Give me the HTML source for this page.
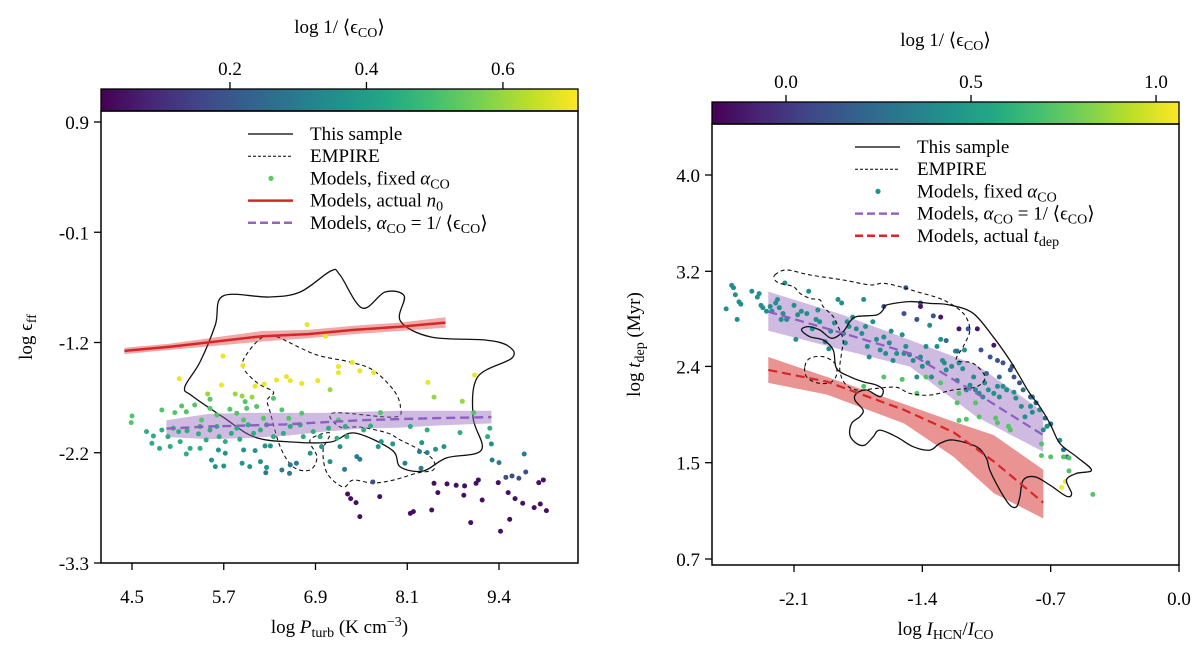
<!DOCTYPE html>
<html><head><meta charset="utf-8"><style>
html,body{margin:0;padding:0;background:#fff;}
svg{display:block;font-family:"Liberation Serif","DejaVu Serif",serif;}
</style></head><body>
<svg id="fig" width="1200" height="651" viewBox="0 0 1200 651" xmlns="http://www.w3.org/2000/svg">
<defs>
<linearGradient id="viridis" x1="0" x2="1" y1="0" y2="0">
<stop offset="0" stop-color="#440154"/><stop offset="0.1" stop-color="#482475"/><stop offset="0.2" stop-color="#414487"/><stop offset="0.3" stop-color="#355f8d"/><stop offset="0.4" stop-color="#2a788e"/><stop offset="0.5" stop-color="#21918c"/><stop offset="0.6" stop-color="#22a884"/><stop offset="0.7" stop-color="#44bf70"/><stop offset="0.8" stop-color="#7ad151"/><stop offset="0.9" stop-color="#bddf26"/><stop offset="1" stop-color="#fde725"/>
</linearGradient>
<clipPath id="clipL"><rect x="101" y="111" width="477" height="452"/></clipPath>
<clipPath id="clipR"><rect x="712" y="124" width="467" height="441"/></clipPath>
</defs>
<g id="left"></g>
<g id="right"></g>
</svg>
<script>
// ===== Left panel data =====
const lXTicks=[4.5,5.7,6.9,8.1,9.3];
const lXTickLabels=["4.5","5.7","6.9","8.1","9.4"];
const lYTicks=[0.9,-0.15,-1.2,-2.25,-3.3];
const lYTickLabels=["0.9","-0.1","-1.2","-2.2","-3.3"];
const lCbTicks=[0.2,0.4,0.6];
const lCbLabels=["0.2","0.4","0.6"];
const lRedX=[4.4,5.0,5.6,6.2,6.8,7.4,8.0,8.6];
const lRedY=[-1.28,-1.24,-1.19,-1.14,-1.12,-1.08,-1.05,-1.01];
const lRedHalf=[0.03,0.03,0.04,0.05,0.04,0.04,0.04,0.05];
const lPurX=[4.95,5.5,6.0,6.5,7.0,7.5,8.0,8.5,9.2];
const lPurY=[-2.02,-2.0,-1.99,-1.98,-1.96,-1.94,-1.93,-1.92,-1.91];
const lPurHalf=[0.08,0.12,0.12,0.11,0.09,0.08,0.08,0.07,0.06];
const lSolidX=[5.69,6.29,6.70,7.10,7.22,7.51,7.81,8.06,8.01,8.41,9.12,9.42,9.47,9.02,8.96,9.07,8.61,8.31,8.01,7.90,7.41,7.10,6.59,6.10,5.69,5.29,5.19,5.39,5.59];
const lSolidY=[-0.757,-0.767,-0.719,-0.519,-0.557,-0.871,-0.719,-0.757,-0.995,-1.148,-1.176,-1.233,-1.348,-1.529,-1.91,-2.224,-2.3,-2.424,-2.386,-2.224,-2.062,-2.148,-2.148,-2.1,-1.91,-1.71,-1.624,-1.386,-1.033];
const lDashX=[6.21,6.01,5.95,6.14,6.35,6.27,6.31,6.44,6.61,6.83,6.92,6.83,7.09,7.0,7.05,7.26,7.39,7.65,7.92,8.23,8.44,8.44,8.27,8.01,7.84,7.48,7.22,7.13,7.92,8.01,7.92,7.65,7.35,6.92,6.57,6.40];
const lDashY=[-1.148,-1.30,-1.433,-1.586,-1.671,-1.748,-1.871,-2.195,-2.386,-2.414,-2.29,-2.129,-2.062,-2.224,-2.443,-2.576,-2.51,-2.538,-2.51,-2.443,-2.414,-2.319,-2.224,-2.129,-2.062,-2.005,-2.005,-1.871,-1.91,-1.814,-1.652,-1.462,-1.386,-1.319,-1.205,-1.148];
const lPtX=[6.79,7.03,5.69,5.12,5.95,5.67,6.11,6.23,6.39,6.52,6.57,6.72,6.93,7.2,7.2,7.38,7.48,7.66,8.37,8.98,
7.09,8.45,8.82,5.49,5.85,5.94,6.07,
4.89,4.50,4.49,5.15,5.21,5.32,5.52,5.52,5.61,5.78,5.87,5.98,6.0,6.13,6.22,6.35,6.46,6.55,6.72,7.2,7.75,8.97,5.96,5.41,5.06,
4.69,4.78,4.89,4.97,5.04,5.11,4.76,4.86,5.0,5.13,5.22,5.37,5.39,5.47,5.52,5.61,5.64,5.72,5.8,5.87,5.91,6.02,6.09,6.18,6.26,6.35,6.48,6.57,6.7,6.74,6.87,6.96,7.07,7.18,7.29,7.31,7.53,7.62,8.14,8.36,8.79,9.18,9.15,5.26,5.21,5.39,
5.63,5.72,5.54,5.59,5.7,5.94,6.04,6.11,6.24,6.31,6.18,6.26,5.96,6.83,6.98,7.09,7.22,7.72,7.76,7.91,8.29,8.47,8.58,9.2,
6.46,6.57,6.56,6.65,6.25,7.28,7.44,7.48,8.26,8.36,9.21,9.3,9.63,8.07,8.28,
7.65,9.65,9.39,9.47,9.56,
7.32,7.36,7.43,7.48,7.74,8.14,8.18,8.42,8.45,8.5,8.62,8.74,8.84,8.85,8.93,9.0,9.03,9.08,9.29,9.32,9.42,9.44,9.51,9.61,9.76,9.84,9.92,9.82,9.88];
const lPtY=[-1.03,-1.14,-1.33,-1.545,-1.42,-1.605,-1.615,-1.595,-1.557,-1.525,-1.563,-1.59,-1.563,-1.43,-1.487,-1.39,-1.47,-1.487,-1.58,-1.51,
-1.65,-1.72,-1.76,-1.69,-1.69,-1.71,-1.72,
-1.843,-1.9,-1.963,-1.805,-1.86,-1.795,-1.74,-1.827,-1.89,-1.836,-1.874,-1.763,-1.827,-1.81,-1.922,-1.732,-1.842,-1.922,-1.874,-1.938,-1.868,-1.868,-1.938,-1.938,-1.868,
-2.049,-2.09,-2.033,-2.097,-2.017,-2.049,-2.16,-2.208,-2.19,-2.144,-2.04,-2.07,-2.0,-2.128,-2.033,-2.0,-2.097,-2.144,-2.065,-2.017,-2.122,-1.985,-2.065,-2.033,-1.985,-2.097,-2.065,-2.0,-1.985,-2.097,-2.049,-2.097,-2.017,-2.112,-2.0,-2.097,-2.033,-1.995,-2.0,-2.033,-2.058,-2.017,-2.097,-2.208,-2.262,-2.208,
-2.224,-2.255,-2.32,-2.382,-2.376,-2.35,-2.382,-2.23,-2.185,-2.185,-2.335,-2.39,-2.224,-2.255,-2.192,-2.335,-2.192,-2.192,-2.144,-2.166,-2.154,-2.217,-2.192,-2.166,
-2.414,-2.366,-2.446,-2.35,-2.44,-2.408,-2.287,-2.312,-2.239,-2.249,-2.319,-2.344,-2.262,-2.35,-2.398,
-2.528,-2.433,-2.484,-2.471,-2.493,
-2.643,-2.687,-2.725,-2.858,-2.668,-2.827,-2.811,-2.795,-2.541,-2.63,-2.547,-2.56,-2.655,-2.566,-2.915,-2.541,-2.509,-2.7,-2.535,-2.998,-2.63,-2.884,-2.687,-2.731,-2.773,-2.738,-2.801,-2.535,-2.509];
const lPtC=[].concat(Array(20).fill(0.69),Array(7).fill(0.6),Array(25).fill(0.52),Array(46).fill(0.45),Array(24).fill(0.37),Array(15).fill(0.3),Array(5).fill(0.18),Array(29).fill(0.04));

// ===== Right panel data =====
const rXTicks=[-2.1,-1.4,-0.7,0.0];
const rXTickLabels=["-2.1","-1.4","-0.7","0.0"];
const rYTicks=[0.73,1.55,2.37,3.18,4.0];
const rYTickLabels=["0.7","1.5","2.4","3.2","4.0"];
const rCbTicks=[0.0,0.5,1.0];
const rCbLabels=["0.0","0.5","1.0"];
const rPurX=[-2.24,-1.832,-1.468,-1.104,-0.741];
const rPurY=[2.836,2.652,2.481,2.14,1.785];
const rPurLo=[2.674,2.51,2.368,1.94,1.643];
const rPurHi=[3.007,2.808,2.595,2.382,1.984];
const rRedX=[-2.24,-1.92,-1.5,-1.23,-1.01,-0.74];
const rRedY=[2.34,2.24,2.0,1.81,1.56,1.21];
const rRedLo=[2.23,2.13,1.885,1.6,1.29,1.075];
const rRedHi=[2.45,2.28,2.05,1.90,1.785,1.49];
const rSolidX=[-1.595,-1.468,-1.359,-1.25,-1.123,-1.014,-0.923,-0.868,-0.814,-0.759,-0.704,-0.65,-0.559,-0.477,-0.559,-0.614,-0.586,-0.614,-0.704,-0.786,-0.85,-0.868,-0.886,-0.923,-0.977,-1.032,-1.05,-1.104,-1.232,-1.304,-1.359,-1.45,-1.541,-1.632,-1.668,-1.714,-1.759,-1.795,-1.786,-1.741,-1.723,-1.768,-1.759,-1.704,-1.632,-1.614,-1.65,-1.723,-1.795,-1.868,-1.886,-1.941,-2.014,-2.059,-2.023,-1.959,-1.895,-1.832,-1.795,-1.759,-1.65,-1.614];
const rSolidY=[2.893,2.922,2.907,2.893,2.822,2.623,2.424,2.282,2.14,2.027,1.885,1.714,1.601,1.487,1.459,1.402,1.288,1.265,1.359,1.43,1.402,1.26,1.175,1.189,1.317,1.487,1.586,1.686,1.743,1.714,1.657,1.686,1.771,1.828,1.771,1.7,1.714,1.785,1.885,1.942,1.998,2.084,2.14,2.169,2.112,2.169,2.211,2.24,2.282,2.353,2.51,2.595,2.623,2.68,2.709,2.68,2.609,2.666,2.751,2.794,2.808,2.851];
const rDashX=[-2.204,-2.141,-2.014,-1.832,-1.686,-1.614,-1.523,-1.432,-1.286,-1.177,-1.141,-1.177,-1.214,-1.123,-1.059,-1.104,-1.232,-1.359,-1.468,-1.541,-1.65,-1.759,-1.823,-1.85,-1.841,-1.832,-1.859,-1.886,-1.941,-1.959,-2.014,-2.068,-2.104,-2.177,-2.204];
const rDashY=[3.149,3.192,3.149,3.106,3.064,3.078,3.05,3.007,2.936,2.822,2.68,2.538,2.424,2.396,2.282,2.197,2.169,2.126,2.14,2.192,2.183,2.169,2.226,2.339,2.481,2.595,2.709,2.794,2.879,2.936,2.95,2.993,3.05,3.078,3.106];
const rDash2X=[-2.041,-2.014,-1.941,-1.877,-1.868,-1.904,-1.977,-2.032];
const rDash2Y=[2.368,2.439,2.453,2.396,2.297,2.231,2.231,2.282];
const rPtX=[-2.47,-2.44,-2.43,-2.42,-2.40,-2.39,-2.41,-2.33,-2.30,-2.29,-2.28,-2.27,-2.25,-2.23,-2.22,-2.20,-2.19,-2.18,-2.17,-2.16,-2.15,-2.14,-2.10,-2.08,-2.06,-2.03,-2.02,-2.09,-2.00,-1.98,-1.97,-1.96,-1.93,-1.91,-1.90,-1.88,-1.86,-1.84,-1.83,-1.82,-1.81,-1.80,-1.78,-1.76,-1.73,-1.72,-1.71,-1.70,-1.69,-1.67,-1.65,-1.63,-1.61,-1.60,-1.58,-1.57,-1.56,-1.54,-1.51,-1.50,-1.49,-1.47,-1.45,-1.43,-1.41,-1.40,-1.38,-1.37,-1.36,-1.35,-1.32,-1.30,-1.29,-1.28,-1.27,-1.24,-1.22,-1.21,-1.20,-1.18,-1.17,-1.16,-1.14,-1.12,-1.11,-1.09,-1.07,-1.06,-1.04,-1.01,-0.99,-0.98,-0.96,-0.94,-0.90,-0.89,-0.86,-0.84,-0.81,-0.80,-0.76,-0.74,-0.72,-0.70,-0.65,
-1.49,-1.41,-1.34,-1.15,-1.08,-1.03,-0.99,-0.96,-0.92,-0.91,-0.90,-0.87,-0.81,-0.78,-1.43,-1.50,-1.61,
-1.20,-1.10,-1.01,-1.30,-1.41,
-1.27,-1.21,-1.05,-0.98,-0.85,-0.80,-0.73,-0.70,-0.63,-0.61,
-1.72,-1.61,-1.51,-1.43,-1.20,-1.21,-1.20,-1.16,-1.09,-1.00,-0.99,-0.93,-0.92,-0.75,-0.75,-0.70,-0.63,-0.60,-0.60,-0.47,-1.11,-1.30,-1.38,
-0.64,-0.62];
const rPtY=[2.86,3.06,3.04,2.98,2.92,2.90,2.77,3.01,2.96,2.99,2.89,2.87,2.84,2.88,2.84,2.91,2.94,2.87,2.77,2.82,3.08,2.77,2.89,2.81,2.84,2.82,3.01,2.60,2.69,2.77,2.85,2.75,2.58,2.52,2.67,2.74,2.94,2.91,2.65,2.57,2.75,2.71,2.79,2.69,2.65,2.94,2.71,2.54,2.45,2.75,2.60,2.51,2.62,2.48,2.57,2.67,2.42,2.48,2.64,2.48,2.54,2.47,2.42,2.28,2.45,2.37,2.54,2.40,2.72,2.28,2.54,2.60,2.42,2.40,2.34,2.37,2.50,2.25,2.40,2.35,2.51,2.17,2.21,2.28,2.17,2.14,2.11,2.23,2.17,2.14,2.20,2.11,2.20,2.17,2.15,2.10,2.03,1.94,2.03,1.98,2.00,1.83,1.86,1.88,1.74,
3.04,2.91,2.80,2.69,2.51,2.45,2.42,2.40,2.34,2.37,2.28,2.23,2.11,2.06,2.77,2.82,2.88,
2.69,2.69,2.55,2.79,2.88,
2.59,2.50,2.31,2.28,2.17,2.11,1.93,1.88,1.66,1.60,
2.20,2.28,2.26,2.14,2.14,2.06,1.91,1.92,1.94,1.93,1.89,1.86,1.83,1.71,1.61,1.60,1.60,1.59,1.48,1.28,2.06,2.23,2.28,
1.34,1.39];
const rPtC=[].concat(Array(105).fill(0.42),Array(17).fill(0.13),Array(5).fill(-0.12),Array(10).fill(0.25),Array(23).fill(0.72),Array(2).fill(1.05));

// ===== helpers =====
const NS="http://www.w3.org/2000/svg";
const VIR=["#440154","#482475","#414487","#355f8d","#2a788e","#21918c","#22a884","#44bf70","#7ad151","#bddf26","#fde725"];
function hex(h){return [parseInt(h.slice(1,3),16),parseInt(h.slice(3,5),16),parseInt(h.slice(5,7),16)];}
function viridis(t){t=Math.max(0,Math.min(1,t));const f=t*10,i=Math.min(9,Math.floor(f)),r=f-i;const a=hex(VIR[i]),b=hex(VIR[i+1]);return "rgb("+a.map((v,k)=>Math.round(v+(b[k]-v)*r)).join(",")+")";}
function el(tag,attrs,parent){const e=document.createElementNS(NS,tag);for(const k in attrs)e.setAttribute(k,attrs[k]);parent.appendChild(e);return e;}
function smoothClosed(pts){let d="M"+pts[0][0].toFixed(1)+","+pts[0][1].toFixed(1);const n=pts.length;for(let i=0;i<n;i++){const p0=pts[(i-1+n)%n],p1=pts[i],p2=pts[(i+1)%n],p3=pts[(i+2)%n];const c1=[p1[0]+(p2[0]-p0[0])/6,p1[1]+(p2[1]-p0[1])/6],c2=[p2[0]-(p3[0]-p1[0])/6,p2[1]-(p3[1]-p1[1])/6];d+="C"+c1.map(v=>v.toFixed(1))+" "+c2.map(v=>v.toFixed(1))+" "+p2.map(v=>v.toFixed(1));}return d+"Z";}
function linePath(xs,ys,sx,sy){return xs.map((x,i)=>(i?"L":"M")+sx(x).toFixed(1)+","+sy(ys[i]).toFixed(1)).join("");}
function bandPath(xs,lo,hi,sx,sy){let d=xs.map((x,i)=>(i?"L":"M")+sx(x).toFixed(1)+","+sy(hi[i]).toFixed(1)).join("");for(let i=xs.length-1;i>=0;i--)d+="L"+sx(xs[i]).toFixed(1)+","+sy(lo[i]).toFixed(1);return d+"Z";}
function txt(parent,x,y,html,attrs){const t=el("text",Object.assign({x:x,y:y,"font-size":19,fill:"#000"},attrs||{}),parent);t.innerHTML=html;return t;}
const SUB='<tspan baseline-shift="-25%" font-size="14">';
const ECO='⟨ϵ'+SUB+'CO</tspan>⟩';

function drawPanel(g,o){
  const cb=el("rect",{x:o.x0,y:o.cbY0,width:o.x1-o.x0,height:o.cbY1-o.cbY0,fill:"url(#viridis)",stroke:"#000","stroke-width":1.3},g);
  
  
  const cx=v=>o.x0+(v-o.cmin)/(o.cmax-o.cmin)*(o.x1-o.x0);
  o.cbTicks.forEach((v,i)=>{
    const tk=el("line",{x1:cx(v),x2:cx(v),y1:o.cbY0,y2:o.cbY0-7,stroke:"#000","stroke-width":1.3},g);
    
    
    const t=txt(g,cx(v),o.cbY0-14,o.cbLabels[i],{"text-anchor":"middle"});
    
    
  });
  const cbt=txt(g,(o.x0+o.x1)/2,o.cbY0-56,'log 1/ '+ECO,{"text-anchor":"middle"});
  
  
  const sx=o.sx,sy=o.sy;
  const plot=el("g",{"clip-path":"url(#"+o.clip+")"},g);
  
  
  o.draw(plot,sx,sy,cx);
  const fr=el("rect",{x:o.x0,y:o.y0,width:o.x1-o.x0,height:o.y1-o.y0,fill:"none",stroke:"#000","stroke-width":1.5},g);
  
  
  o.xTicks.forEach((v,i)=>{
    const tk=el("line",{x1:sx(v),x2:sx(v),y1:o.y1,y2:o.y1+7,stroke:"#000","stroke-width":1.3},g);
    
    
    const t=txt(g,sx(v),o.y1+40,o.xLabels[i],{"text-anchor":"middle"});
    
    
  });
  o.yTicks.forEach((v,i)=>{
    const tk=el("line",{x1:o.x0,x2:o.x0-7,y1:sy(v),y2:sy(v),stroke:"#000","stroke-width":1.3},g);
    
    
    const t=txt(g,o.x0-12,sy(v)+7,o.yLabels[i],{"text-anchor":"end"});
    
    
  });
  const xt=txt(g,(o.x0+o.x1)/2,o.y1+70,o.xTitle,{"text-anchor":"middle"});
  
  
  const yt=txt(g,0,0,o.yTitle,{"text-anchor":"middle",transform:"translate("+o.yTitleX+","+((o.y0+o.y1)/2)+") rotate(-90)"});
  
  
  const lg=el("g",{},g);
  
  
  o.legend.forEach((e,i)=>{
    const y=o.legY+i*22.2;
    const it=el("g",{},lg);
    
    
    if(e.type==="dot"){el("circle",{cx:o.legX+23,cy:y,r:2.6,fill:e.color},it);}
    else{el("line",{x1:o.legX,x2:o.legX+45,y1:y,y2:y,stroke:e.color,"stroke-width":e.w,"stroke-dasharray":e.dash||"none"},it);}
    txt(it,o.legX+62,y+6,e.label);
  });
}

(function(){
  const g=document.getElementById("left");
  const sx=v=>132+(v-4.5)*(499-132)/(9.3-4.5);
  const sy=v=>563-(v+3.3)*(563-122)/4.2;
  drawPanel(g,{x0:101,x1:578,y0:111,y1:563,cbY0:89,cbY1:111,cmin:0.011,cmax:0.71,cbTicks:lCbTicks,cbLabels:lCbLabels,
    sx:sx,sy:sy,clip:"clipL",xTicks:lXTicks,xLabels:lXTickLabels,yTicks:lYTicks,yLabels:lYTickLabels,
    xTitle:'log <tspan font-style="italic">P</tspan>'+SUB+'turb</tspan> (K cm<tspan baseline-shift="super" font-size="14">−3</tspan>)',
    yTitle:'log ϵ'+SUB+'ff</tspan>',yTitleX:32,
    legX:248,legY:134,
    legend:[{type:"line",color:"#000",w:1.2,label:"This sample"},{type:"line",color:"#000",w:1,dash:"3,2",label:"EMPIRE"},{type:"dot",color:"#5ec962",label:'Models, fixed <tspan font-style="italic">α</tspan>'+SUB+'CO</tspan>'},{type:"line",color:"#d62728",w:2.5,label:'Models, actual <tspan font-style="italic">n</tspan>'+SUB+'0</tspan>'},{type:"line",color:"#9467bd",w:2.5,dash:"8,4",label:'Models, <tspan font-style="italic">α</tspan>'+SUB+'CO</tspan> = 1/ '+ECO}],
    draw:function(p,sx,sy,cx){
      const sc=el("path",{d:smoothClosed(lSolidX.map((x,i)=>[sx(x),sy(lSolidY[i])])),fill:"none",stroke:"#111","stroke-width":1.3},p);
      
      
      const dc=el("path",{d:smoothClosed(lDashX.map((x,i)=>[sx(x),sy(lDashY[i])])),fill:"none",stroke:"#111","stroke-width":1.1,"stroke-dasharray":"4,3"},p);
      
      
      const pb=el("path",{d:bandPath(lPurX,lPurY.map((v,i)=>v-lPurHalf[i]),lPurY.map((v,i)=>v+lPurHalf[i]),sx,sy),fill:"#9467bd","fill-opacity":0.45},p);
      
      
      const rb=el("path",{d:bandPath(lRedX,lRedY.map((v,i)=>v-lRedHalf[i]),lRedY.map((v,i)=>v+lRedHalf[i]),sx,sy),fill:"#d62728","fill-opacity":0.4},p);
      
      
      lPtX.forEach((x,i)=>{
        const c=el("circle",{cx:sx(x),cy:sy(lPtY[i]),r:2.5,fill:viridis((lPtC[i]-0.011)/(0.71-0.011))},p);
        
        
      });
      const pl=el("path",{d:linePath(lPurX,lPurY,sx,sy),fill:"none",stroke:"#8c5fc0","stroke-width":2.4,"stroke-dasharray":"9,5"},p);
      
      
      const rl=el("path",{d:linePath(lRedX,lRedY,sx,sy),fill:"none",stroke:"#d62728","stroke-width":2.5},p);
      
      
    }});
})();

(function(){
  const g=document.getElementById("right");
  const sx=v=>1179+v*(1179-794)/2.1;
  const sy=v=>559-(v-0.73)*(559-175)/(4.0-0.73);
  drawPanel(g,{x0:712,x1:1179,y0:124,y1:565,cbY0:102,cbY1:124,cmin:-0.2,cmax:1.062,cbTicks:rCbTicks,cbLabels:rCbLabels,
    sx:sx,sy:sy,clip:"clipR",xTicks:rXTicks,xLabels:rXTickLabels,yTicks:rYTicks,yLabels:rYTickLabels,
    xTitle:'log <tspan font-style="italic">I</tspan>'+SUB+'HCN</tspan>/<tspan font-style="italic">I</tspan>'+SUB+'CO</tspan>',
    yTitle:'log <tspan font-style="italic">t</tspan>'+SUB+'dep</tspan> (Myr)',yTitleX:640,
    legX:855,legY:147,
    legend:[{type:"line",color:"#000",w:1.2,label:"This sample"},{type:"line",color:"#000",w:1,dash:"3,2",label:"EMPIRE"},{type:"dot",color:"#21918c",label:'Models, fixed <tspan font-style="italic">α</tspan>'+SUB+'CO</tspan>'},{type:"line",color:"#9467bd",w:2.5,dash:"8,4",label:'Models, <tspan font-style="italic">α</tspan>'+SUB+'CO</tspan> = 1/ '+ECO},{type:"line",color:"#d62728",w:2.5,dash:"8,4",label:'Models, actual <tspan font-style="italic">t</tspan>'+SUB+'dep</tspan>'}],
    draw:function(p,sx,sy,cx){
      const pb=el("path",{d:bandPath(rPurX,rPurLo,rPurHi,sx,sy),fill:"#9467bd","fill-opacity":0.45},p);
      
      
      const rb=el("path",{d:bandPath(rRedX,rRedLo,rRedHi,sx,sy),fill:"#d62728","fill-opacity":0.5},p);
      
      
      rPtX.forEach((x,i)=>{
        const c=el("circle",{cx:sx(x),cy:sy(rPtY[i]),r:2.5,fill:viridis((rPtC[i]+0.2)/(1.062+0.2))},p);
        
        
      });
      const sc=el("path",{d:smoothClosed(rSolidX.map((x,i)=>[sx(x),sy(rSolidY[i])])),fill:"none",stroke:"#111","stroke-width":1.3},p);
      
      
      const dc=el("path",{d:smoothClosed(rDashX.map((x,i)=>[sx(x),sy(rDashY[i])])),fill:"none",stroke:"#111","stroke-width":1.1,"stroke-dasharray":"4,3"},p);
      
      
      const dc2=el("path",{d:smoothClosed(rDash2X.map((x,i)=>[sx(x),sy(rDash2Y[i])])),fill:"none",stroke:"#111","stroke-width":1.1,"stroke-dasharray":"4,3"},p);
      
      
      const pl=el("path",{d:linePath(rPurX,rPurY,sx,sy),fill:"none",stroke:"#8c5fc0","stroke-width":2.2,"stroke-dasharray":"9,5"},p);
      
      
      const rl=el("path",{d:linePath(rRedX,rRedY,sx,sy),fill:"none",stroke:"#d62728","stroke-width":2.2,"stroke-dasharray":"9,5"},p);
      
      
    }});
})();
</script>
</body></html>
